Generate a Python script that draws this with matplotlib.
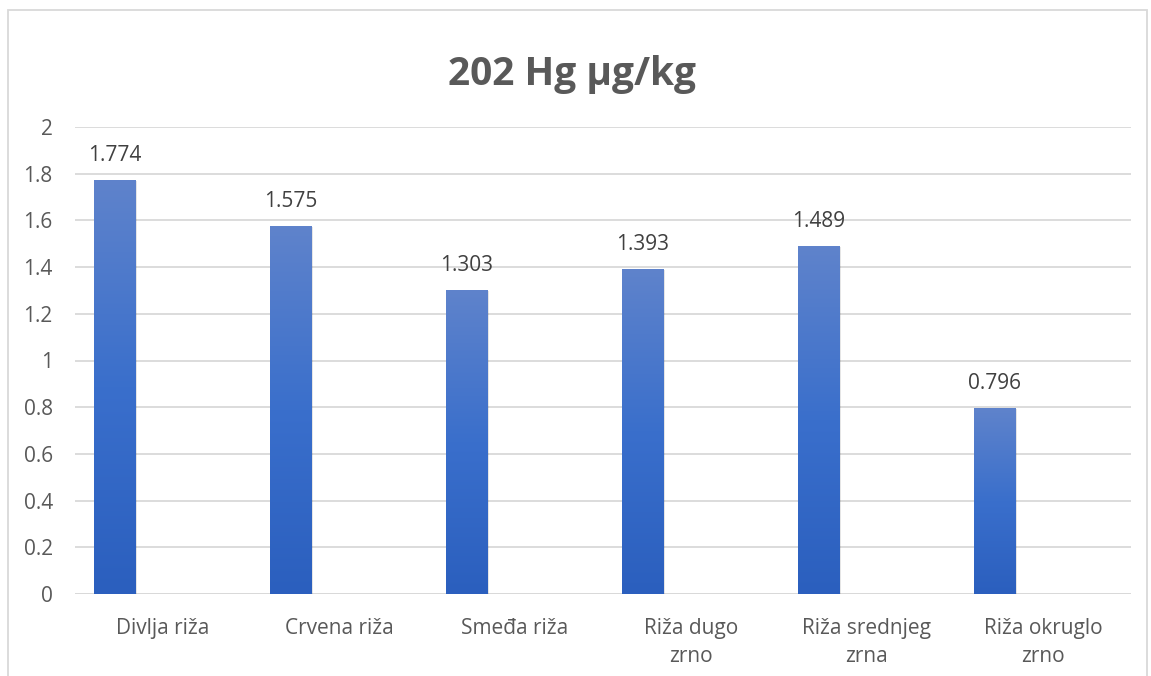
import numpy as np
import matplotlib
matplotlib.use('Agg')
import matplotlib.pyplot as plt
from matplotlib.patches import Rectangle

# podaci
kategorije = ['Divlja riža', 'Crvena riža', 'Smeđa riža', 'Riža dugo\nzrno',
              'Riža srednjeg\nzrna', 'Riža okruglo\nzrno']
vrijednosti = [1.774, 1.575, 1.303, 1.393, 1.489, 0.796]
y_ticks = [0, 0.2, 0.4, 0.6, 0.8, 1, 1.2, 1.4, 1.6, 1.8, 2]
y_labels = ['0', '0.2', '0.4', '0.6', '0.8', '1', '1.2', '1.4', '1.6', '1.8', '2']

plt.rcParams['font.family'] = ['Open Sans', 'DejaVu Sans']

fig = plt.figure(figsize=(11.51, 6.76), dpi=100)
fig.patch.set_facecolor('white')

# okvir grafikona
fig.patches.append(Rectangle((8 / 1151, -0.05), 1139 / 1151, 1 - 10 / 676 + 0.05,
                             transform=fig.transFigure, fill=False,
                             edgecolor='#D9D9D9', linewidth=1.3))

ax = fig.add_axes([75 / 1151, 1 - 594 / 676, 1056 / 1151, 467 / 676])
x = np.arange(len(kategorije))
pomak = -0.276
sirina = 0.233

ax.set_xlim(-0.5, len(kategorije) - 0.5)
ax.set_ylim(0, 2)

# gradijent plava
grad = np.linspace(0, 1, 256).reshape(-1, 1)
cmap = matplotlib.colors.LinearSegmentedColormap.from_list('plava', ['#2B5FBE', '#3A6FCC', '#5F83CB'])

bars = ax.bar(x + pomak, vrijednosti, width=sirina, color='#3A6BC8', zorder=3)
for b, v in zip(bars, vrijednosti):
    x0 = b.get_x()
    # sjena
    ax.add_patch(Rectangle((x0 + 0.012, 0), b.get_width(), v - 0.004, facecolor='#000000',
                           alpha=0.10, linewidth=0, zorder=2.5))
    im = ax.imshow(grad, cmap=cmap, aspect='auto', origin='lower',
                   extent=(x0, x0 + b.get_width(), 0, v), zorder=3.1)
    im.set_clip_path(b)
    ax.text(x0 + b.get_width() / 2, v + 0.06, f'{v:.3f}', ha='center', va='bottom',
            fontsize=15, color='#404040', zorder=4)

ax.set_yticks(y_ticks)
ax.set_yticklabels(y_labels, fontsize=15, color='#595959')
ax.set_xticks(x)
ax.set_xticklabels(kategorije, fontsize=15, color='#595959', linespacing=1.45, va='top')
ax.tick_params(axis='both', length=0)
ax.tick_params(axis='x', pad=17)
ax.tick_params(axis='y', pad=16)
ax.grid(axis='y', color='#D9D9D9', linewidth=1.3, zorder=0)
for s in ax.spines.values():
    s.set_visible(False)
ax.axhline(0, color='#D9D9D9', linewidth=1.3, zorder=1)

fig.text(0.497, 1 - 75 / 676, '202 Hg µg/kg', ha='center', va='center',
         fontsize=28, fontweight='bold', color='#595959')

fig.savefig('out.png', dpi=100)
